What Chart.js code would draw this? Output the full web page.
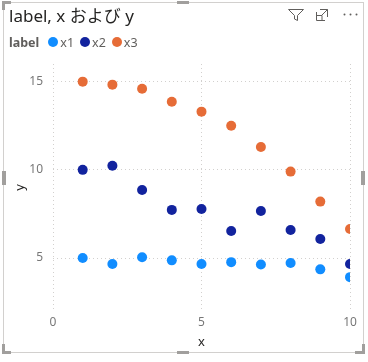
<!DOCTYPE html>
<html>
<head>
<meta charset="utf-8">
<script src="https://cdn.jsdelivr.net/npm/chart.js@4.4.1/dist/chart.umd.min.js"></script>
<style>
  html, body { margin: 0; padding: 0; background: #ffffff; }
  body { width: 368px; height: 362px; position: relative; overflow: hidden;
         font-family: "Noto Sans", "Noto Sans CJK JP", sans-serif; }
  #plot { position: absolute; left: 0; top: 0; }
  #frame { position: absolute; left: 0; top: 0; pointer-events: none; }
  #title { position: absolute; left: 9px; top: 2px; font-size: 17px; color: #252423;
           font-family: "Noto Sans", "Noto Sans CJK JP", sans-serif; white-space: nowrap; }
  #legend { position: absolute; left: 9px; top: 33px; height: 18px; display: flex; align-items: center;
            font-size: 12.5px; color: #605E5C; white-space: nowrap; }
  #legend .head { font-weight: bold; margin-right: 9px; }
  #legend .item { display: flex; align-items: center; margin-right: 6px; }
  #legend .dot { width: 10px; height: 10px; border-radius: 50%; margin-right: 2px; }
</style>
</head>
<body>
<canvas id="plot" width="368" height="362"></canvas>
<div id="title">label, x および y</div>
<div id="legend"><span class="head">label</span></div>
<svg id="frame" width="368" height="362" viewBox="0 0 368 362">
  <!-- visual border -->
  <rect x="3.5" y="2.5" width="360" height="350" fill="none" stroke="#d2d0ce" stroke-width="1"/>
  <!-- resize handles -->
  <g fill="none" stroke="#a19f9d" stroke-width="3">
    <path d="M3.5,10 V2.5 H11"/>
    <path d="M3.5,344 V352.5 H11"/>
    <path d="M355,352.5 H363.5 V344"/>
  </g>
  <g fill="#a19f9d">
    <rect x="177" y="1" width="12" height="3"/>
    <rect x="177" y="351" width="12" height="3"/>
    <rect x="2" y="171" width="4" height="14"/>
    <rect x="361" y="171" width="4" height="14"/>
  </g>
  <!-- header icons -->
  <g fill="none" stroke="#605E5C" stroke-width="1">
    <path d="M288.5,9.5 H303.5 L297.5,15.5 V20.5 L294.5,19 V15.5 Z"/>
    <path d="M316.5,12 V20.5 H325 M316.5,15.5 H322 V20.5 M320,9.5 H327.5 V17 M327.5,9.5 L321.5,15.5"/>
  </g>
  <g fill="#605E5C">
    <circle cx="344.5" cy="14.5" r="1"/>
    <circle cx="350.5" cy="14.5" r="1"/>
    <circle cx="356.5" cy="14.5" r="1"/>
  </g>
</svg>
<script>
// Series and axis data
const seriesNames = ['x1', 'x2', 'x3'];
const seriesColors = ['#118DFF', '#12239E', '#E66C37'];
const xValues = [1, 2, 3, 4, 5, 6, 7, 8, 9, 10];
const x1Values = [5.0, 4.66, 5.05, 4.87, 4.66, 4.77, 4.64, 4.72, 4.36, 3.92];
const x2Values = [10.0, 10.23, 8.86, 7.73, 7.78, 6.53, 7.67, 6.59, 6.08, 4.66];
const x3Values = [15.0, 14.83, 14.6, 13.86, 13.3, 12.5, 11.3, 9.9, 8.2, 6.65];
const xTicks = [0, 5, 10];
const yTicks = [5, 10, 15];

const seriesValues = [x1Values, x2Values, x3Values];
const fontFamily = '"Noto Sans", "Noto Sans CJK JP", sans-serif';

// legend entries
const legendEl = document.getElementById('legend');
seriesNames.forEach((name, i) => {
  const item = document.createElement('span');
  item.className = 'item';
  const dot = document.createElement('span');
  dot.className = 'dot';
  dot.style.background = seriesColors[i];
  const txt = document.createElement('span');
  txt.textContent = name;
  item.appendChild(dot);
  item.appendChild(txt);
  legendEl.appendChild(item);
});

const datasets = seriesNames.map((name, i) => ({
  label: name,
  data: xValues.map((x, j) => ({ x: x, y: seriesValues[i][j] })),
  backgroundColor: seriesColors[i],
  borderWidth: 0,
  pointRadius: 5,
  pointHoverRadius: 5,
  clip: 0
}));

const gridStyle = { color: '#d2d0ce', lineWidth: 1, drawTicks: false };
const borderStyle = { display: false, dash: [1, 3] };

new Chart(document.getElementById('plot'), {
  type: 'scatter',
  data: { datasets: datasets },
  options: {
    responsive: false,
    animation: false,
    devicePixelRatio: 1,
    layout: { padding: { left: 0, top: 64, right: 18, bottom: 12 } },
    plugins: {
      legend: { display: false },
      title: { display: false },
      tooltip: { enabled: false }
    },
    scales: {
      x: {
        type: 'linear',
        min: 0,
        max: 10,
        afterBuildTicks: s => { s.ticks = xTicks.map(v => ({ value: v })); },
        afterFit: s => { s.height = 39; },
        grid: gridStyle,
        border: borderStyle,
        ticks: { padding: 4, color: '#777777', font: { size: 12, family: fontFamily } },
        title: { display: true, text: 'x', color: '#252423', padding: 0,
                 font: { size: 13, family: fontFamily } }
      },
      y: {
        type: 'linear',
        min: 2,
        max: 16,
        afterBuildTicks: s => { s.ticks = yTicks.map(v => ({ value: v })); },
        afterFit: s => { s.width = 53; },
        grid: gridStyle,
        border: borderStyle,
        ticks: { padding: 10, color: '#777777', font: { size: 12, family: fontFamily } },
        title: { display: true, text: 'y', color: '#252423', padding: { top: 12, bottom: 0 },
                 font: { size: 13, family: fontFamily } }
      }
    }
  }
});
</script>
</body>
</html>
